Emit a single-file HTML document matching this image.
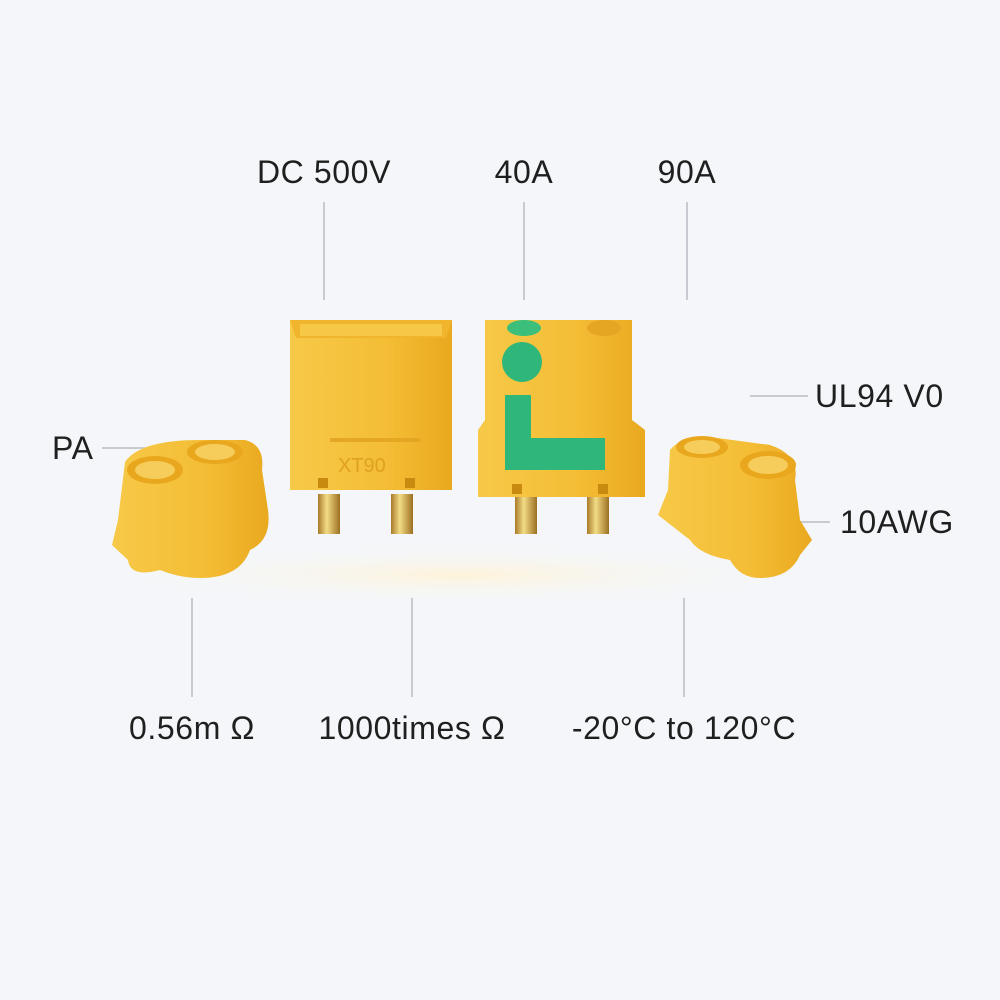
<!DOCTYPE html>
<html><head><meta charset="utf-8"><style>
html,body{margin:0;padding:0;background:#f4f6f9;}
svg{display:block}
text{font-family:"Liberation Sans",sans-serif;font-size:32px;letter-spacing:0.6px;fill:#1f1f1f;}
</style></head><body>
<svg width="1000" height="1000" viewBox="0 0 1000 1000">
<defs>
<linearGradient id="y" x1="0" x2="1"><stop offset="0" stop-color="#f7c948"/><stop offset="0.6" stop-color="#f4bd35"/><stop offset="1" stop-color="#e9a91f"/></linearGradient>
<linearGradient id="g" x1="0" x2="1"><stop offset="0" stop-color="#a87a2a"/><stop offset="0.4" stop-color="#f3dc86"/><stop offset="1" stop-color="#9c6f22"/></linearGradient>
<radialGradient id="sh"><stop offset="0" stop-color="#fff4da"/><stop offset="1" stop-color="#f4f6f9" stop-opacity="0"/></radialGradient>
</defs>
<rect width="1000" height="1000" fill="#f4f6f9"/>
<ellipse cx="460" cy="575" rx="360" ry="30" fill="url(#sh)"/>
<g stroke="#b8bcc2" stroke-width="1.5">
<line x1="324" y1="202" x2="324" y2="300"/><line x1="524" y1="202" x2="524" y2="300"/><line x1="687" y1="202" x2="687" y2="300"/>
<line x1="750" y1="396" x2="808" y2="396"/><line x1="102" y1="448" x2="162" y2="448"/><line x1="750" y1="522" x2="830" y2="522"/>
<line x1="192" y1="598" x2="192" y2="697"/><line x1="412" y1="598" x2="412" y2="697"/><line x1="684" y1="598" x2="684" y2="697"/>
</g>
<text x="324" y="183" text-anchor="middle">DC 500V</text>
<text x="524" y="183" text-anchor="middle">40A</text>
<text x="687" y="183" text-anchor="middle">90A</text>
<text x="815" y="407">UL94 V0</text>
<text x="52" y="459">PA</text>
<text x="840" y="533">10AWG</text>
<text x="192" y="739" text-anchor="middle">0.56m Ω</text>
<text x="412" y="739" text-anchor="middle">1000times Ω</text>
<text x="684" y="739" text-anchor="middle">-20°C to 120°C</text>
<rect x="318" y="494" width="22" height="40" fill="url(#g)"/><rect x="391" y="494" width="22" height="40" fill="url(#g)"/>
<rect x="515" y="494" width="22" height="40" fill="url(#g)"/><rect x="587" y="494" width="22" height="40" fill="url(#g)"/>
<path d="M290 320 L452 320 L452 490 L290 490 Z" fill="url(#y)"/>
<path d="M290 320 L452 320 L446 338 L296 338 Z" fill="#f0b52c"/>
<rect x="300" y="324" width="142" height="12" fill="#f7c848"/>
<rect x="330" y="438" width="90" height="4" fill="#e4a623"/>
<text x="338" y="472" style="font-size:20px;fill:#e0a020;letter-spacing:0">XT90</text>
<rect x="318" y="478" width="10" height="10" fill="#c98a10"/><rect x="405" y="478" width="10" height="10" fill="#c98a10"/>
<path d="M485 320 L632 320 L632 420 L645 430 L645 497 L478 497 L478 430 L485 420 Z" fill="url(#y)"/>
<ellipse cx="524" cy="328" rx="17" ry="8" fill="#3bbf7a"/>
<ellipse cx="604" cy="328" rx="17" ry="8" fill="#e4a623"/>
<circle cx="522" cy="362" r="20" fill="#2fb67a"/>
<rect x="505" y="395" width="26" height="52" fill="#2fb67a"/>
<rect x="505" y="438" width="100" height="32" fill="#2fb67a"/>
<rect x="512" y="484" width="10" height="10" fill="#c98a10"/><rect x="598" y="484" width="10" height="10" fill="#c98a10"/>
<path d="M125 462 Q140 440 200 440 L245 440 Q265 445 262 470 L268 510 Q272 540 250 550 Q240 578 200 578 Q180 578 160 570 Q130 578 128 560 L112 545 L118 520 Z" fill="url(#y)"/>
<ellipse cx="155" cy="470" rx="28" ry="14" fill="#e9a71e"/><ellipse cx="155" cy="470" rx="20" ry="9" fill="#f6cd5b"/>
<ellipse cx="215" cy="452" rx="28" ry="12" fill="#e9a71e"/><ellipse cx="215" cy="452" rx="20" ry="8" fill="#f6cd5b"/>
<path d="M670 450 Q680 437 710 437 L770 445 Q800 455 795 480 L800 520 L812 540 L800 555 Q790 578 760 578 Q740 578 730 560 Q700 555 690 540 L658 515 L668 490 Z" fill="url(#y)"/>
<ellipse cx="702" cy="447" rx="26" ry="11" fill="#e9a71e"/><ellipse cx="702" cy="447" rx="18" ry="7" fill="#f6cd5b"/>
<ellipse cx="768" cy="465" rx="28" ry="14" fill="#e9a71e"/><ellipse cx="768" cy="465" rx="20" ry="9" fill="#f6cd5b"/>
</svg>
</body></html>
